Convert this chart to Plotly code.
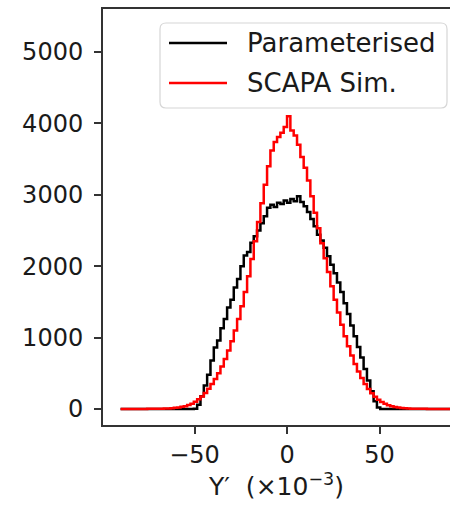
import plotly.graph_objects as go

# Histogram binning: 100 bins spanning -90 .. 90 (units of 1e-3)
bin_start = -90.0
bin_width = 1.8

parameterised = [
    0, 0, 0, 0, 0, 0, 0, 0, 0, 0,
    0, 0, 0, 0, 0, 0, 0, 0, 0, 0,
    0, 0, 5, 60, 180, 330, 480, 680, 860, 960,
    1130, 1260, 1420, 1530, 1700, 1820, 2000, 2150, 2200, 2330,
    2420, 2500, 2600, 2700, 2820, 2860, 2830, 2890, 2870, 2920,
    2890, 2940, 2910, 2980, 2900, 2840, 2760, 2660, 2560, 2440,
    2360, 2260, 2140, 2020, 1900, 1770, 1640, 1480, 1330, 1170,
    1020, 870, 720, 560, 400, 250, 110, 20, 0, 0,
    0, 0, 0, 0, 0, 0, 0, 0, 0, 0,
    0, 0, 0, 0, 0, 0, 0, 0, 0, 0,
]

scapa_sim = [
    0, 0, 0, 0, 0, 0, 1, 1, 2, 2,
    3, 4, 5, 6, 8, 11, 16, 22, 30, 40,
    55, 75, 100, 135, 175, 225, 285, 350, 420, 500,
    595, 700, 820, 950, 1100, 1260, 1440, 1640, 1860, 2100,
    2350, 2620, 2880, 3140, 3400, 3620, 3740, 3810, 3870, 3950,
    4100, 3900, 3830, 3700, 3530, 3380, 3200, 2980, 2750, 2530,
    2320, 2110, 1920, 1720, 1530, 1350, 1180, 1020, 880, 750,
    630, 525, 435, 350, 280, 220, 170, 128, 97, 72,
    53, 39, 28, 20, 14, 10, 7, 5, 4, 3,
    2, 2, 1, 1, 0, 0, 0, 0, 0, 0,
]

series_names = ["Parameterised", "SCAPA Sim."]
series_colors = ["black", "red"]
y_ticks = [0, 1000, 2000, 3000, 4000, 5000]
x_ticks = [-50, 0, 50]
x_tick_labels = ["−50", "0", "50"]

edges = [bin_start + bin_width * k for k in range(len(parameterised) + 1)]

FONT = "DejaVu Sans"
W, H = 450, 507
ML, MR, MT, MB = 103, 0, 9, 82
PW, PH = W - ML - MR, H - MT - MB


def px_x(p):  # pixel column -> paper x
    return (p - ML) / PW


def px_y(p):  # pixel row -> paper y
    return (H - MB - p) / PH


fig = go.Figure()
for name, vals, col in zip(series_names, [parameterised, scapa_sim], series_colors):
    fig.add_trace(go.Scatter(
        x=edges, y=list(vals) + [vals[-1]],
        mode="lines", line=dict(color=col, width=2.5, shape="hv"),
        name=name, showlegend=False,
    ))

# Legend box (matplotlib-style rounded frame), drawn in paper coordinates
bx0, bx1, by0, by1, r = 160, 447, 23, 108, 6
rx, ry = r / PW, r / PH
x0, x1, y0, y1 = px_x(bx0), px_x(bx1), px_y(by1), px_y(by0)
path = (f"M {x0+rx},{y0} L {x1-rx},{y0} Q {x1},{y0} {x1},{y0+ry} "
        f"L {x1},{y1-ry} Q {x1},{y1} {x1-rx},{y1} L {x0+rx},{y1} "
        f"Q {x0},{y1} {x0},{y1-ry} L {x0},{y0+ry} Q {x0},{y0} {x0+rx},{y0} Z")
shapes = [dict(type="path", path=path, xref="paper", yref="paper",
               fillcolor="rgba(255,255,255,0.8)", line=dict(color="#d6d6d6", width=1.2),
               layer="above")]
annotations = []
rows = [43, 83]
for name, col, row in zip(series_names, series_colors, rows):
    shapes.append(dict(type="line", xref="paper", yref="paper",
                       x0=px_x(169), x1=px_x(227), y0=px_y(row), y1=px_y(row),
                       line=dict(color=col, width=2.6), layer="above"))
    annotations.append(dict(text=name, xref="paper", yref="paper",
                            x=px_x(245), y=px_y(row), xanchor="left", yanchor="middle",
                            showarrow=False, font=dict(family=FONT, size=26, color="#1a1a1a")))

fig.update_layout(
    width=W, height=H,
    margin=dict(l=ML, r=MR, t=MT, b=MB),
    paper_bgcolor="white", plot_bgcolor="white",
    font=dict(family=FONT, size=24, color="#1a1a1a"),
    showlegend=False,
    shapes=shapes, annotations=annotations,
    xaxis=dict(
        range=[-99.5, 88.1], tickvals=x_ticks, ticktext=x_tick_labels,
        ticks="outside", ticklen=7, tickwidth=1.6, tickcolor="#333",
        showline=True, linecolor="#333", linewidth=2, mirror=True,
        showgrid=False, zeroline=False,
        title=dict(text="Y′  (×10<sup>−3</sup>)", standoff=8,
                   font=dict(family=FONT, size=25)),
    ),
    yaxis=dict(
        range=[-224, 5602], tickvals=y_ticks,
        ticks="outside", ticklen=7, tickwidth=1.6, tickcolor="#333",
        showline=True, linecolor="#333", linewidth=2, mirror=False,
        showgrid=False, zeroline=False, ticklabelstandoff=6,
    ),
)

fig.write_html("out.html")
